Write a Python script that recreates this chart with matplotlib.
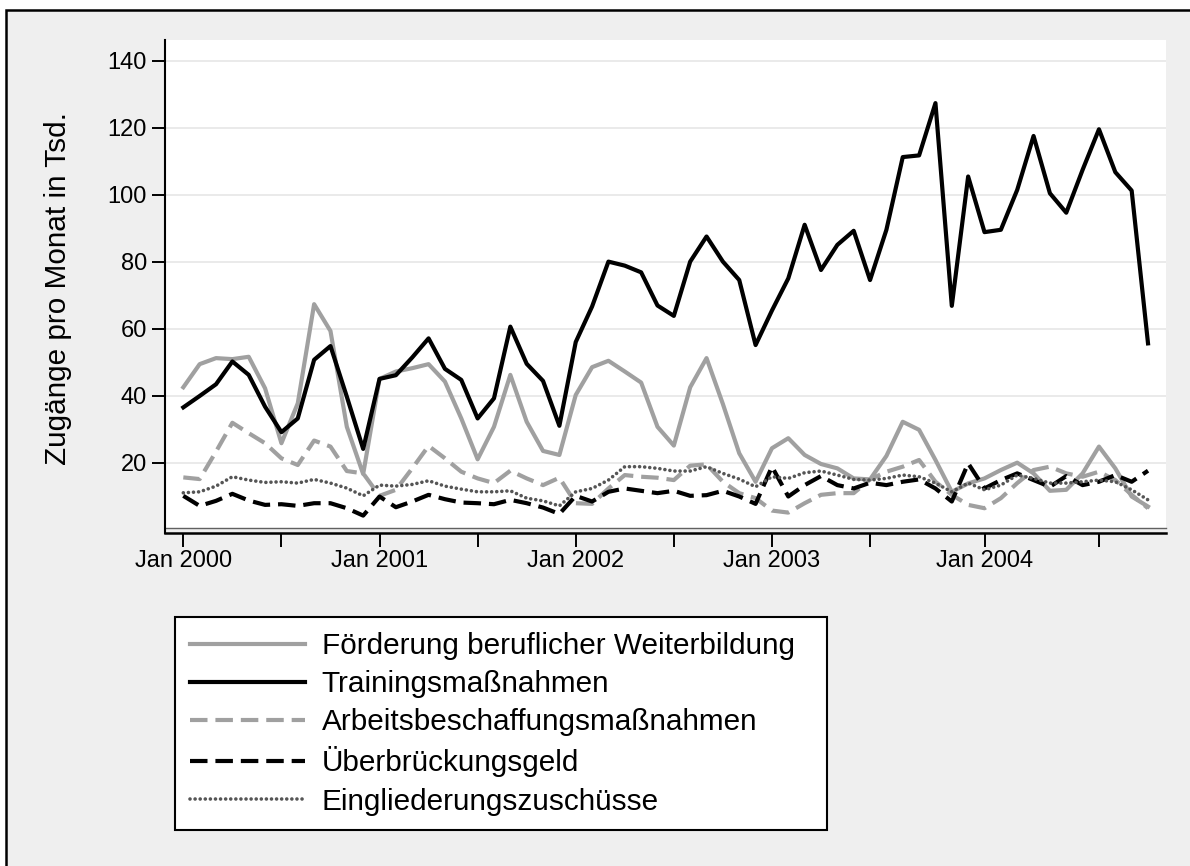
import matplotlib
matplotlib.use("Agg")
import matplotlib.pyplot as plt
from matplotlib.patches import Rectangle

plt.rcParams["font.family"] = ["Liberation Sans", "DejaVu Sans"]

# monthly index, Jan 2000 = 0
months = list(range(60))

foerderung = [42.5, 49.4, 51.2, 50.9, 51.6, 42.2, 25.8, 37.7, 67.3, 59.3,
              30.7, 16.6, 45.0, 47.2, 48.2, 49.4, 44.2, 33.2, 21.0, 30.7,
              46.2, 32.2, 23.5, 22.3, 40.2, 48.5, 50.4, 47.2, 43.9, 30.7,
              25.1, 42.5, 51.2, 37.5, 22.8, 14.3, 24.3, 27.3, 22.3, 19.6,
              18.3, 15.3, 15.0, 22.0, 32.2, 29.8, 20.8, 11.3, 13.8, 15.3,
              17.8, 20.0, 16.8, 11.6, 11.9, 16.8, 24.8, 18.3, 9.9, 6.9]
training = [36.5, 39.9, 43.4, 50.2, 46.2, 36.7, 29.1, 33.2, 50.7, 54.8,
            39.7, 24.1, 45.0, 46.1, 51.4, 57.1, 48.0, 44.7, 33.2, 39.2,
            60.6, 49.5, 44.4, 31.0, 56.0, 66.6, 80.0, 78.8, 76.8, 66.9,
            63.8, 80.0, 87.5, 80.0, 74.5, 55.1, 65.4, 75.0, 91.0, 77.5,
            85.0, 89.2, 74.5, 89.5, 111.2, 111.7, 127.3, 66.8, 105.4, 88.8,
            89.5, 101.4, 117.5, 100.4, 94.6, 107.4, 119.5, 106.7, 101.2, 55.6]
abm = [15.6, 15.1, 23.3, 31.9, 28.8, 25.8, 21.3, 19.3, 26.6, 24.8,
       17.5, 16.8, 10.1, 11.9, 18.3, 25.0, 21.3, 17.3, 15.3, 13.9,
       17.6, 15.3, 13.3, 15.5, 7.9, 7.7, 12.3, 16.3, 15.8, 15.5,
       14.8, 19.1, 19.5, 14.3, 10.9, 9.4, 5.7, 5.1, 7.9, 10.4,
       10.9, 10.9, 15.0, 17.3, 18.8, 20.8, 14.3, 10.4, 7.4, 6.4,
       9.4, 13.9, 17.8, 18.8, 16.8, 15.8, 17.3, 14.8, 10.4, 6.4]
ueberbrueckung = [10.1, 7.1, 8.6, 10.7, 8.7, 7.4, 7.6, 7.1, 7.9, 7.9,
                  6.4, 4.2, 9.9, 6.7, 8.4, 10.4, 9.1, 8.1, 7.9, 7.6,
                  8.9, 7.9, 6.6, 4.7, 10.1, 8.4, 11.3, 12.3, 11.6, 10.9,
                  11.6, 10.1, 10.3, 11.6, 9.9, 7.7, 18.8, 9.9, 13.3, 16.0,
                  13.3, 12.3, 14.0, 13.3, 14.3, 15.0, 12.3, 8.4, 19.8, 12.3,
                  14.8, 16.8, 14.8, 12.8, 16.0, 13.3, 14.3, 16.3, 14.3, 17.6]
eingliederung = [11.0, 11.3, 13.0, 15.8, 14.8, 14.1, 14.3, 13.9, 15.0, 13.9,
                 12.4, 10.1, 13.3, 13.0, 13.5, 14.6, 13.0, 12.1, 11.3, 11.3,
                 11.6, 9.4, 8.6, 7.1, 11.3, 12.3, 14.8, 18.8, 18.8, 18.3,
                 17.5, 17.5, 18.8, 16.8, 15.1, 12.8, 15.8, 15.3, 17.0, 17.5,
                 16.3, 15.0, 14.8, 15.3, 16.3, 15.8, 13.9, 11.3, 13.9, 11.9,
                 13.3, 16.3, 15.3, 13.9, 13.9, 14.3, 14.8, 14.3, 11.9, 8.9]

labels = ["Förderung beruflicher Weiterbildung", "Trainingsmaßnahmen",
          "Arbeitsbeschaffungsmaßnahmen", "Überbrückungsgeld",
          "Eingliederungszuschüsse"]

label_ticks = [0, 12, 24, 36, 49]
label_names = ["Jan 2000", "Jan 2001", "Jan 2002", "Jan 2003", "Jan 2004"]
minor_ticks = [6, 18, 30, 42, 56]
y_ticks = [20, 40, 60, 80, 100, 120, 140]

W, H = 1190, 866
fig = plt.figure(figsize=(W / 100, H / 100), dpi=100)
fig.patch.set_facecolor("white")
fig.add_artist(Rectangle((5.7 / W, -0.1), 1.2, 1.1 - 10 / H,
                         transform=fig.transFigure, facecolor="#efefef",
                         edgecolor="black", linewidth=1.8, zorder=-10))

ax = fig.add_axes([165 / W, 1 - 528 / H, (1166 - 165) / W, (528 - 39.8) / H])
ax.set_facecolor("white")

lw = 3.0
gray = "#a0a0a0"
dash = (0, (4.2, 1.9))
ax.plot(months, foerderung, color=gray, lw=lw, ls="-", label=labels[0])
ax.plot(months, training, color="black", lw=lw, ls="-", label=labels[1])
ax.plot(months, abm, color=gray, lw=lw, ls=dash, label=labels[2])
ax.plot(months, ueberbrueckung, color="black", lw=lw, ls=dash, label=labels[3])
ax.plot(months, eingliederung, color="#555555", lw=2.6, ls=(0, (0.01, 1.4)),
        dash_capstyle="round", label=labels[4])

ax.set_xlim(-1.12, 60.1)
ax.set_ylim(0.5, 146.2)

ax.set_yticks(y_ticks)
ax.yaxis.grid(True, color="#e6e6e6", lw=1.2)
ax.set_axisbelow(True)
ax.set_xticks(label_ticks)
ax.set_xticklabels(label_names)
ax.set_xticks(minor_ticks, minor=True)

ax.tick_params(axis="y", direction="out", length=9.5, width=1.4,
               labelsize=17, pad=3.6, colors="black")
ax.tick_params(axis="x", which="both", direction="out", length=10, width=1.4,
               labelsize=17, pad=2.5, colors="black")

for s in ["top", "right"]:
    ax.spines[s].set_visible(False)
ax.spines["left"].set_linewidth(1.5)
ax.spines["bottom"].set_linewidth(1.8)
ax.spines["bottom"].set_position(("outward", 3.6))
ax.spines["left"].set_bounds(-1.0, 146.2)
ax.axhline(0.5, color="#606060", lw=1.0, clip_on=False)

ax.set_ylabel("Zugänge pro Monat in Tsd.", fontsize=21.4)
ax.yaxis.set_label_coords(-0.093, 0.49)

leg = fig.legend(loc="upper left",
                 bbox_to_anchor=(174.7 / W, 30 / H, (826.7 - 174.7) / W, 1 - 617.3 / H - 30 / H),
                 mode="expand", borderaxespad=0, fontsize=21.4,
                 handlelength=3.88, handletextpad=0.57, labelspacing=0.34,
                 borderpad=0.5, fancybox=False, framealpha=1)
leg.get_frame().set_edgecolor("black")
leg.get_frame().set_linewidth(1.5)

fig.savefig("out.png", dpi=100)
